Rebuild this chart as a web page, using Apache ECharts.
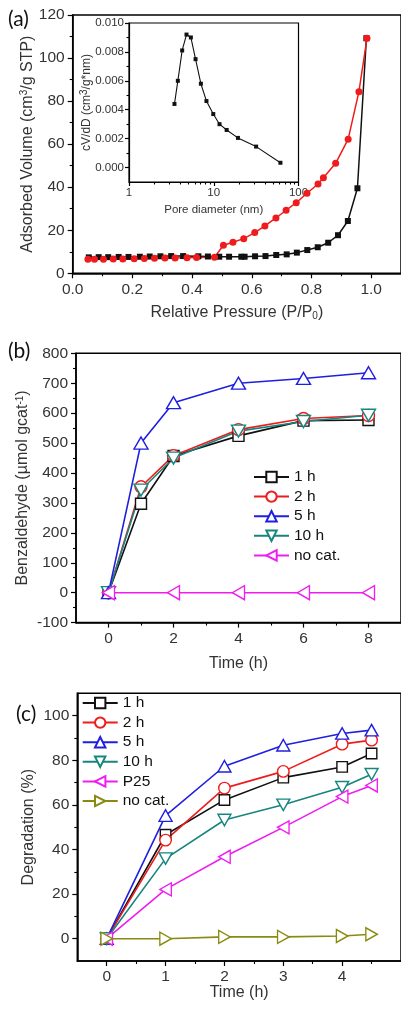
<!DOCTYPE html>
<html><head><meta charset="utf-8">
<script src="https://cdn.jsdelivr.net/npm/echarts@6/dist/echarts.min.js"></script>
<style>html,body{margin:0;padding:0;background:#fff}#c{width:401px;height:1009px}</style>
</head><body><div id="c"></div>
<script>
// ---------- Panel (a): isotherm ----------
const aAdsP = [0.054,0.087,0.119,0.154,0.187,0.225,0.258,0.294,0.330,0.370,0.421,0.453,0.491,0.524,0.565,0.576,0.611,0.646,0.682,0.717,0.751,0.786,0.821,0.856,0.889,0.922,0.954,0.984];
const aAdsV = [7.4,7.5,7.5,7.6,7.6,7.7,7.8,7.9,8.0,8.0,7.9,7.8,7.7,7.7,7.7,7.7,7.9,8.0,8.5,8.8,9.6,10.8,12.1,14.2,17.7,24.3,39.5,109.2];
const aDesP = [0.051,0.073,0.103,0.136,0.168,0.206,0.240,0.274,0.309,0.343,0.383,0.415,0.475,0.505,0.537,0.573,0.610,0.644,0.681,0.715,0.749,0.785,0.822,0.840,0.881,0.923,0.959,0.986];
const aDesV = [6.5,6.5,6.5,6.6,6.7,6.8,6.9,7.0,7.1,7.1,7.2,7.3,7.4,13.0,14.4,16.1,18.9,22.0,25.7,29.3,32.8,37.2,41.5,44.4,51.1,62.3,84.4,109.2];
const aXTicks = [0,0.2,0.4,0.6,0.8,1.0];
const aXMinor = [0.1,0.3,0.5,0.7,0.9];
const aYTicks = [0,20,40,60,80,100,120];
const aYMinor = [10,30,50,70,90,110];
// inset: pore size distribution
const inD = [3.44,3.77,4.24,4.77,5.37,6.1,7.05,8.2,9.87,11.7,14.2,19.3,31.6,61.2];
const inV = [0.0044,0.0060,0.0081,0.0092,0.0090,0.0075,0.0058,0.0046,0.0037,0.0030,0.0026,0.00205,0.00145,0.00033];
const inXMinor = [2,3,4,5,6,7,8,9,20,30,40,50,60,70,80,90];
const inYTicks = [0,0.002,0.004,0.006,0.008,0.010];
const inYMinor = [0.001,0.003,0.005,0.007,0.009];
// ---------- Panel (b): benzaldehyde ----------
const timeB = [0,1,2,4,6,8];
const b1h = [0,297,457,524,575,577];
const b2h = [0,354,458,545,582,592];
const b5h = [0,500,635,700,716,735];
const b10h = [0,343,450,540,572,593];
const timeBnc = [0,2,4,6,8];
const bNoCat = [0,0,0,0,0];
const bXTicks = [0,2,4,6,8];
const bXMinor = [1,3,5,7];
const bYTicks = [-100,0,100,200,300,400,500,600,700,800];
const bYMinor = [-50,50,150,250,350,450,550,650,750];
// ---------- Panel (c): degradation ----------
const timeC = [0,1,2,3,4,4.5];
const c1h = [0,46.6,62.2,72.2,77.0,83.0];
const c2h = [0,44.2,67.5,75.0,87.2,89.0];
const c5h = [0,55.2,77.3,86.7,92.0,93.5];
const c10h = [0,35.9,53.2,60.0,67.9,73.7];
const cP25 = [0,22.1,36.7,49.9,63.7,68.7];
const cNoCat = [0,0,0.8,0.8,1.2,2.0];
const cXTicks = [0,1,2,3,4];
const cXMinor = [0.5,1.5,2.5,3.5,4.5];
const cYTicks = [0,20,40,60,80,100];
const cYMinor = [10,30,50,70,90];

const FF = 'Liberation Sans';
const pair = (xs, ys) => xs.map((x, i) => [x, ys[i]]);
function richFor(fs) {
  return {
    sup: {fontSize: 10, fontFamily: FF, color: '#333', verticalAlign: 'top', padding: [0,0,5,0]},
    sub: {fontSize: 10, fontFamily: FF, color: '#333', verticalAlign: 'bottom', padding: [7,0,0,0]}
  };
}

function mainAxis(o) {
  return {
    gridIndex: o.grid, type: o.type || 'value', min: o.min, max: o.max, position: o.pos,
    name: o.name, nameLocation: 'middle', nameGap: o.gap, nameMoveOverlap: false,
    nameTextStyle: {color: '#333', fontSize: o.nfs || 16, fontFamily: FF, rich: richFor(o.nfs || 16)},
    splitLine: {show: false},
    axisLine: {show: true, onZero: false, lineStyle: {color: '#000', width: o.lw || 1.5}},
    axisTick: {show: true, length: o.tl || 5, customValues: o.ticks, lineStyle: {color: '#000', width: 1.2}},
    axisLabel: {show: true, customValues: o.ticks, color: '#333', fontSize: o.fs || 15.5, fontFamily: FF,
      margin: o.margin || 8, formatter: o.fmt},
    minorTick: {show: false}
  };
}
function minorAxis(o) {
  return {
    gridIndex: o.grid, type: 'value', min: o.min, max: o.max, position: o.pos,
    splitLine: {show: false},
    axisLine: {show: false, onZero: false},
    axisTick: {show: true, length: o.tl || 3, customValues: o.ticks, lineStyle: {color: '#000', width: 1.1}},
    axisLabel: {show: false}
  };
}

const xAxis = [
  mainAxis({grid: 0, min: 0, max: 1.1, pos: 'bottom', ticks: aXTicks, fmt: v => v.toFixed(1),
    name: 'Relative Pressure (P/P{sub|0})', gap: 31}),
  minorAxis({grid: 0, min: 0, max: 1.1, pos: 'bottom', ticks: aXMinor}),
  Object.assign(mainAxis({grid: 1, type: 'log', min: 1, max: 100, pos: 'bottom', fs: 11.5, nfs: 11.5, margin: 5, tl: 4, lw: 1.2,
    name: 'Pore diameter (nm)', gap: 22}), {logBase: 10}),
  minorAxis({grid: 1, min: 0, max: 2, pos: 'bottom', ticks: inXMinor.map(v => Math.log10(v)), tl: 2.5}),
  mainAxis({grid: 2, min: -1, max: 9, pos: 'bottom', ticks: bXTicks, name: 'Time (h)', gap: 33}),
  minorAxis({grid: 2, min: -1, max: 9, pos: 'bottom', ticks: bXMinor}),
  mainAxis({grid: 3, min: -0.5, max: 5, pos: 'bottom', ticks: cXTicks, name: 'Time (h)', gap: 24}),
  minorAxis({grid: 3, min: -0.5, max: 5, pos: 'bottom', ticks: cXMinor})
];
delete xAxis[2].axisTick.customValues;
delete xAxis[2].axisLabel.customValues;

const yAxis = [
  mainAxis({grid: 0, min: 0, max: 120, pos: 'left', ticks: aYTicks, name: 'Adsorbed Volume (cm{sup|3}/g STP)', gap: 37}),
  minorAxis({grid: 0, min: 0, max: 120, pos: 'left', ticks: aYMinor}),
  mainAxis({grid: 1, min: -0.001, max: 0.010, pos: 'left', ticks: inYTicks, fmt: v => v.toFixed(3), fs: 11.5, nfs: 12,
    margin: 5, tl: 4, lw: 1.2, name: 'cV/dD (cm{sup|3}/g*nm)', gap: 35}),
  minorAxis({grid: 1, min: -0.001, max: 0.010, pos: 'left', ticks: inYMinor, tl: 2.5}),
  mainAxis({grid: 2, min: -100, max: 800, pos: 'left', ticks: bYTicks, name: 'Benzaldehyde (\u00b5mol gcat{sup|-1})', gap: 45}),
  minorAxis({grid: 2, min: -100, max: 800, pos: 'left', ticks: bYMinor}),
  mainAxis({grid: 3, min: -10, max: 110, pos: 'left', ticks: cYTicks, name: 'Degradation (%)', gap: 41}),
  minorAxis({grid: 3, min: -10, max: 110, pos: 'left', ticks: cYMinor})
];

const DOWN = 'path://M0,0 L10,0 L5,9 Z';
const UP = 'triangle';
const LEFT = 'path://M9,0 L9,10 L0,5 Z';
const RIGHT = 'path://M0,0 L0,10 L9,5 Z';
const COL = {k: '#111111', r: '#ee1c1c', b: '#1f1fe0', t: '#16857f', m: '#f01cf0', o: '#8a8a10'};

function hollow(name, xi, yi, data, color, symbol, size) {
  return {
    type: 'line', name: name, xAxisIndex: xi, yAxisIndex: yi, data: data,
    symbol: symbol, symbolSize: size, showSymbol: true,
    lineStyle: {color: color, width: 1.6},
    itemStyle: {color: '#fff', borderColor: color, borderWidth: 1.4},
    emphasis: {disabled: true}, animation: false
  };
}

const series = [
  {type: 'line', name: 'ads', xAxisIndex: 0, yAxisIndex: 0, data: pair(aAdsP, aAdsV),
   symbol: 'rect', symbolSize: 6, lineStyle: {color: '#111', width: 1.5}, itemStyle: {color: '#111'}},
  {type: 'line', name: 'des', xAxisIndex: 0, yAxisIndex: 0, data: pair(aDesP, aDesV),
   symbol: 'circle', symbolSize: 7, lineStyle: {color: '#ee1c1c', width: 1.5}, itemStyle: {color: '#ee1c1c'}},
  {type: 'line', name: 'psd', xAxisIndex: 2, yAxisIndex: 2, data: pair(inD, inV),
   symbol: 'rect', symbolSize: 4, lineStyle: {color: '#111', width: 1.1}, itemStyle: {color: '#111'}},

  hollow('1 h', 4, 4, pair(timeB, b1h), COL.k, 'rect', 11),
  hollow('2 h', 4, 4, pair(timeB, b2h), COL.r, 'circle', 12),
  hollow('10 h', 4, 4, pair(timeB, b10h), COL.t, DOWN, [14, 12]),
  hollow('5 h', 4, 4, pair(timeB, b5h), COL.b, UP, [14, 12]),
  hollow('no cat.', 4, 4, pair(timeBnc, bNoCat), COL.m, LEFT, [12, 14]),

  hollow('1 h ', 6, 6, pair(timeC, c1h), COL.k, 'rect', 10.5),
  hollow('2 h ', 6, 6, pair(timeC, c2h), COL.r, 'circle', 11.5),
  hollow('5 h ', 6, 6, pair(timeC, c5h), COL.b, UP, [13, 11.5]),
  hollow('10 h ', 6, 6, pair(timeC, c10h), COL.t, DOWN, [13, 11.5]),
  hollow('P25 ', 6, 6, pair(timeC, cP25), COL.m, LEFT, [11.5, 13]),
  hollow('no cat. ', 6, 6, pair(timeC, cNoCat), COL.o, RIGHT, [11.5, 13])
];

const legendBase = {
  orient: 'vertical', itemWidth: 35, itemHeight: 13, itemGap: 3.6, selectedMode: false,
  textStyle: {fontSize: 15.5, color: '#111', fontFamily: FF}, padding: 0
};

const option = {
  animation: false,
  backgroundColor: '#fff',
  textStyle: {fontFamily: FF},
  grid: [
    {left: 72.7, top: 15, width: 337, height: 258.3, show: true, borderColor: '#000', borderWidth: 1.5, containLabel: false},
    {left: 129, top: 23, width: 169.5, height: 159, show: true, borderColor: '#000', borderWidth: 1.2, backgroundColor: '#fff', containLabel: false},
    {left: 76, top: 353.3, width: 331.5, height: 269.3, show: true, borderColor: '#000', borderWidth: 1.5, containLabel: false},
    {left: 77.3, top: 693.3, width: 327.7, height: 267.7, show: true, borderColor: '#000', borderWidth: 1.5, containLabel: false}
  ],
  xAxis: xAxis,
  yAxis: yAxis,
  legend: [
    Object.assign({}, legendBase, {left: 253, top: 469, data: ['1 h', '2 h', '5 h', '10 h', 'no cat.']}),
    Object.assign({}, legendBase, {left: 81.7, top: 695, data: ['1 h ', '2 h ', '5 h ', '10 h ', 'P25 ', 'no cat. ']})
  ],
  graphic: [
    {type: 'text', left: 8, top: 9, style: {text: '(a)', font: '21px Lato', fill: '#111'}},
    {type: 'text', left: 8, top: 341, style: {text: '(b)', font: '21px Lato', fill: '#111'}},
    {type: 'text', left: 16, top: 704, style: {text: '(c)', font: '21px Lato', fill: '#111'}}
  ],
  series: series
};

const chart = echarts.init(document.getElementById('c'), null, {renderer: 'canvas'});
chart.setOption(option);
</script></body></html>
